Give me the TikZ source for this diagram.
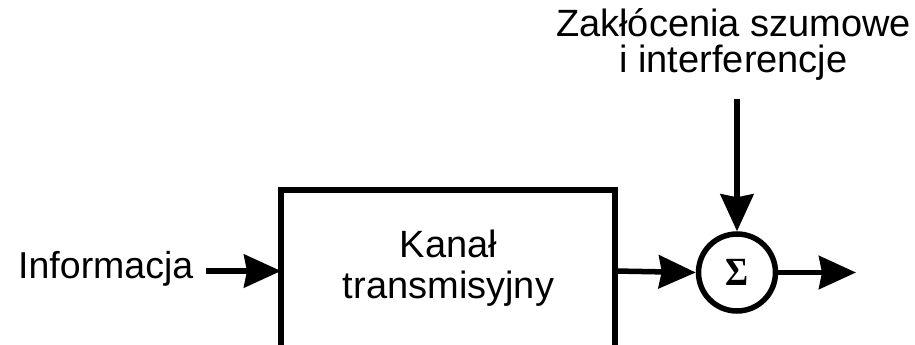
\documentclass[tikz,border=0pt]{standalone}
\usepackage{fontspec}
\setmainfont{Liberation Sans}
\newfontfamily\sigmafont{Liberation Serif}
\usetikzlibrary{arrows.meta}
\begin{document}
\begin{tikzpicture}[x=1pt,y=-1pt,
  wire/.style={line width=5.5pt,-{Stealth[length=37pt,width=33pt,inset=3pt]}},
  lbl/.style={font=\fontsize{38}{38}\selectfont,inner sep=0pt,anchor=base},
  blockbox/.style={draw,line width=5.5pt}]
  \useasboundingbox (0,0) rectangle (915,345);
  \clip (0,0) rectangle (915,345);

  % channel block (its lower edge runs past the page)
  \draw[blockbox] (281,190) rectangle (615,360);
  \coordinate (boxW) at (281,271);
  \coordinate (boxE) at (615,271);
  \node[lbl] (kanal) at (448.5,257) {Kanał};
  \node[lbl] (trans) at (448.5,298) {transmisyjny};

  % input label
  \node[lbl,anchor=base west,font=\fontsize{37.5}{38}\selectfont] (info) at (18,278) {Informacja};
  \coordinate (inStart) at (206,271);

  % summing junction
  \node[draw,circle,line width=5.5pt,minimum size=77pt,inner sep=0pt] (sum) at (737,272.5) {};
  \node[font=\sigmafont\bfseries\fontsize{40}{40}\selectfont,inner sep=0pt,xscale=0.88] (sig) at (737,272.5) {Σ};

  % noise label and its feed
  \node[lbl] (noise1) at (733.5,37) {Zakłócenia szumowe};
  \node[lbl] (noise2) at (733.5,73) {i interferencje};
  \coordinate (noiseTop) at (737,99);
  \coordinate (outEnd) at (856,272.5);

  % connectors
  \draw[wire] (inStart) -- (boxW);
  \draw[wire] (boxE) -- (sum.west);
  \draw[wire] (noiseTop) -- (sum.north);
  \draw[wire] (sum.east) -- (outEnd);
\end{tikzpicture}
\end{document}
